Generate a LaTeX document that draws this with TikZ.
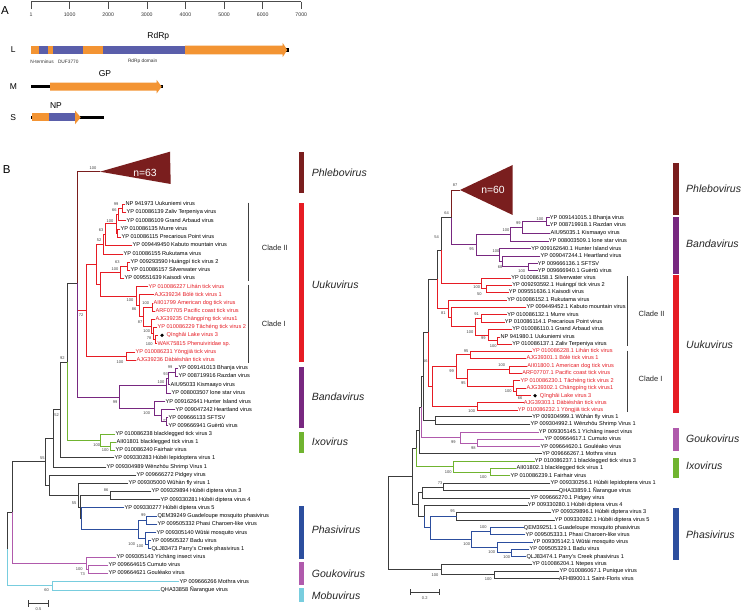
\documentclass[tikz,border=0pt]{standalone}
\usepackage{fontspec}
\setmainfont{Liberation Sans}
\definecolor{phlcol}{RGB}{122,30,30}
\definecolor{uukcol}{RGB}{230,28,36}
\definecolor{bancol}{RGB}{120,40,128}
\definecolor{ixocol}{RGB}{112,180,48}
\definecolor{phacol}{RGB}{44,78,158}
\definecolor{goucol}{RGB}{176,90,172}
\definecolor{mobcol}{RGB}{120,205,222}
\definecolor{treegray}{RGB}{60,60,60}
\definecolor{orfcol}{RGB}{243,148,51}
\definecolor{domcol}{RGB}{90,94,170}
\tikzset{
  leaf/.style={anchor=west, inner sep=0.4pt, text height=4.1pt, text depth=1.1pt, font=\fontsize{5.6}{6}\selectfont},
  redleaf/.style={leaf, text=uukcol},
  bs/.style={inner sep=0pt, font=\fontsize{4}{4.5}\selectfont, text=black!75},
  br/.style={line width=0.9pt, line cap=rect, draw=treegray},
  phlbr/.style={br, draw=phlcol},
  uukbr/.style={br, draw=uukcol},
  banbr/.style={br, draw=bancol},
  ixobr/.style={br, draw=ixocol},
  phabr/.style={br, draw=phacol},
  goubr/.style={br, draw=goucol},
  mobbr/.style={br, draw=mobcol},
  qdot/.style={circle, fill=black, inner sep=0pt, minimum size=3.6pt},
  genus/.style={anchor=west, inner sep=0pt, font=\fontsize{10.5}{12}\selectfont\itshape, text=black!85},
  clade/.style={anchor=west, inner sep=0pt, font=\fontsize{7.5}{9}\selectfont, text=black!85},
  brk/.style={line width=0.7pt, draw=black!75},
  seg/.style={anchor=center, inner sep=0pt, font=\fontsize{8.5}{10}\selectfont},
  small/.style={anchor=center, inner sep=0pt, font=\fontsize{4.8}{5.5}\selectfont, text=black!80},
  tick/.style={anchor=center, inner sep=0pt, font=\fontsize{5.2}{6}\selectfont, text=black!80},
  panel/.style={anchor=center, inner sep=0pt, font=\fontsize{11.5}{13}\selectfont},
  count/.style={anchor=center, inner sep=0pt, text=white, font=\fontsize{10.4}{12}\selectfont}
}
\begin{document}
\begin{tikzpicture}[x=1pt,y=-1pt]
\useasboundingbox[fill=white] (0,0) rectangle (743,612);

% panel A: genome sketch
\node[panel] (pa) at (5,10.7) {A};
\draw[line width=0.5pt, draw=black!70] (31,1.7) -- (301.3,1.7);
\foreach \k/\t in {0/1,1/1000,2/2000,3/3000,4/4000,5/5000,6/6000,7/7000} {
  \draw[line width=0.5pt, draw=black!70] ({31+38.61*\k},1.7) -- ({31+38.61*\k},9.3);
  \node[tick] (tk\k) at ({31+38.61*\k},15) {\t};
}
\node[seg] (segL) at (13.3,50) {L};
\node[seg] (segM) at (13.3,86.7) {M};
\node[seg] (segS) at (13.3,117.3) {S};
\fill[black] (285,48) rectangle (288.5,52);
\fill[orfcol] (31,45.7) rectangle (39,54.3);
\fill[domcol] (39,45.7) rectangle (48.3,54.3);
\fill[orfcol] (48.3,45.7) rectangle (53.3,54.3);
\fill[domcol] (53.3,45.7) rectangle (82.7,54.3);
\fill[orfcol] (82.7,45.7) rectangle (102.7,54.3);
\fill[domcol] (102.7,45.7) rectangle (185,54.3);
\fill[orfcol] (185,45.7) -- (282.7,45.7) -- (282.7,43) -- (287.3,50) -- (282.7,57) -- (282.7,54.3) -- (185,54.3) -- cycle;
\node[seg] (rdrp) at (158.3,36.7) {RdRp};
\node[small] (nter) at (42,61.7) {N-terminus};
\node[small] (duf) at (68.3,61.7) {DUF3770};
\node[small] (rdom) at (142.7,61.7) {RdRp domain};
\fill[black] (31,85.2) rectangle (162.7,88.3);
\fill[orfcol] (50,82.7) -- (156.7,82.7) -- (156.7,80) -- (161.7,86.7) -- (156.7,93.4) -- (156.7,90.7) -- (50,90.7) -- cycle;
\node[seg] (gp) at (105,74) {GP};
\fill[black] (31,115.8) rectangle (104.3,118.8);
\fill[orfcol] (31.7,113.3) rectangle (49.3,121.5);
\fill[domcol] (49.3,113.3) rectangle (75,121.5);
\fill[orfcol] (75,110.5) -- (80.7,117.4) -- (75,124.3) -- cycle;
\node[seg] (np) at (56,106) {NP};

% panel B, left tree
\node[panel] (pb) at (6.7,170) {B};
\coordinate (lphlapex) at (100,171.7);
\fill[phlcol] (lphlapex) -- (170,151.7) -- (170.7,184) -- cycle;
\node[count] (lphl) at (145,173) {n=63};

\node[leaf] (luuk) at (125,204.3) {NP 941973 Uukuniemi virus};
\node[leaf] (lzal) at (126,212.3) {YP 010086139 Zaliv Terpeniya virus};
\node[leaf] (lgra) at (126,220.7) {YP 010086109 Grand Arbaud virus};
\node[leaf] (lmur) at (120,229) {YP 010086135 Murre virus};
\node[leaf] (lpre) at (121,237.3) {YP 010086115 Precarious Point virus};
\node[leaf] (lkab) at (132,245.3) {YP 009449450 Kabuto mountain virus};
\node[leaf] (lruk) at (123,254.3) {YP 010086155 Rukutama virus};
\node[leaf] (lhua) at (130,262) {YP 009293590 Huángpí tick virus 2};
\node[leaf] (lsil) at (130,270) {YP 010086157 Silverwater virus};
\node[leaf] (lkai) at (124,278.3) {YP 009551639 Kaisodi virus};
\node[redleaf] (llih) at (148,286.7) {YP 010086227 Lihán tick virus};
\node[redleaf] (lbol) at (154,294.7) {AJG39234 Bòlè tick virus 1};
\node[redleaf] (lamd) at (153,303) {AII01799 American dog tick virus};
\node[redleaf] (lpac) at (155,311) {ARF07705 Pacific coast tick virus};
\node[redleaf] (lcha) at (155,319.3) {AJG39235 Chāngpíng tick virus1};
\node[redleaf] (ltac) at (157,327) {YP 010086229 Tǎchéng tick virus 2};
\coordinate (lqhtip) at (157.5,335.3);
\node[qdot] (lqhdot) at (162,335.3) {};
\node[redleaf] (lqhl) at (166,335.3) {Qīnghǎi Lake virus 3};
\node[redleaf] (lwak) at (157,343.7) {WAK75815 Phenuiviridae sp.};
\node[redleaf] (lyon) at (135,352) {YP 010086231 Yōngjiā tick virus};
\node[redleaf] (ldab) at (136,360.3) {AJG39236 Dàbiéshān tick virus};
\node[leaf] (lbha) at (178,368.3) {YP 009141013 Bhanja virus};
\node[leaf] (lraz) at (178,376.3) {YP 008719916 Razdan virus};
\node[leaf] (lkis) at (170,384.7) {AIU95033 Kismaayo virus};
\node[leaf] (llon) at (171,393) {YP 008003507 lone star virus};
\node[leaf] (lhun) at (165,401.7) {YP 009162641 Hunter Island virus};
\node[leaf] (lhea) at (175,409.7) {YP 009047242 Heartland virus};
\node[leaf] (lsft) at (168,417.7) {YP 009666133 SFTSV};
\node[leaf] (lgue) at (168,425.7) {YP 009666941 Guèrtǔ virus};
\node[leaf] (lbl3) at (115,434.3) {YP 010086238 blacklegged tick virus 3};
\node[leaf] (lbl1) at (116,442.3) {AII01801 blacklegged tick virus 1};
\node[leaf] (lfai) at (115,450) {YP 010086240 Fairhair virus};
\node[leaf] (llep) at (114,457.7) {YP 009330283 Húběi lepidoptera virus 1};
\node[leaf] (lwen) at (106,467) {YP 009304989 Wēnzhōu Shrimp Virus 1};
\node[leaf] (lpid) at (136,475) {YP 009666272 Pidgey virus};
\node[leaf] (lwuh) at (128,483.3) {YP 009305000 Wǔhàn fly virus 1};
\node[leaf] (ld3) at (151,491.3) {YP 009329894 Húběi diptera virus 3};
\node[leaf] (ld4) at (160,499.7) {YP 009330281 Húběi diptera virus 4};
\node[leaf] (ld5) at (124,507.7) {YP 009330277 Húběi diptera virus 5};
\node[leaf] (lgua) at (157,516) {QEM39249 Guadeloupe mosquito phasivirus};
\node[leaf] (lpcl) at (157,524.3) {YP 009505332 Phasi Charoen-like virus};
\node[leaf] (lwut) at (156,532.7) {YP 009305140 Wǔtái mosquito virus};
\node[leaf] (lbad) at (151,540.7) {YP 009505327 Badu virus};
\node[leaf] (lpar) at (151,548.7) {QLJ83473 Parry's Creek phasivirus 1};
\node[leaf] (lyic) at (116,557) {YP 009305143 Yíchāng insect virus};
\node[leaf] (lcum) at (108,565) {YP 009664615 Cumuto virus};
\node[leaf] (lgol) at (108,573) {YP 009664621 Gouléako virus};
\node[leaf] (lmot) at (179,581.7) {YP 009666266 Mothra virus};
\node[leaf] (lnar) at (160,590) {QHA33858 Ñarangue virus};

% left tree, inner nodes
\coordinate (lroot) at (7,549);
\coordinate (l127) at (12.7,512.4);
\coordinate (l457) at (45.7,461.8);
\coordinate (l53) at (53.3,438.4);
\coordinate (l60) at (60,409.9);
\coordinate (l67) at (67,362);
\coordinate (l77) at (77,283.9);
\coordinate (luu) at (86.7,310.2);
\coordinate (ln8) at (96.7,264.3);
\coordinate (ln6) at (103,244.5);
\coordinate (ln5) at (105,234.6);
\coordinate (ln4) at (116.5,223.8);
\coordinate (ln3) at (117.5,233.2);
\coordinate (ln2) at (118,214.5);
\coordinate (ln1) at (122,208.3);
\coordinate (ln9) at (100,284.2);
\coordinate (lhsk) at (120,272.2);
\coordinate (lhs) at (127,266);
\coordinate (lc7) at (136.7,296.2);
\coordinate (lc6) at (139.5,305.7);
\coordinate (lc5) at (143.3,316.7);
\coordinate (lc1) at (152,307);
\coordinate (lc2) at (151.7,326.3);
\coordinate (lc3) at (153,333.3);
\coordinate (lc4) at (155,339.5);
\coordinate (lyd) at (126,356.2);
\coordinate (lban) at (119.3,397.2);
\coordinate (lb3) at (166.7,385.7);
\coordinate (lb2) at (168.5,378.5);
\coordinate (lb1) at (175.5,372.3);
\coordinate (lb6) at (154,408.7);
\coordinate (lb5) at (161.7,415.7);
\coordinate (lb4) at (166.7,421.7);
\coordinate (lixo) at (100,440.2);
\coordinate (li1) at (110.7,446.2);
\coordinate (l49) at (49.3,485.1);
\coordinate (l78) at (78.7,495.2);
\coordinate (l80) at (80,507);
\coordinate (ld34) at (110,495.5);
\coordinate (l82) at (81.7,518.6);
\coordinate (lpha) at (138,529.4);
\coordinate (lp1) at (146.7,520.2);
\coordinate (lp2) at (145.5,538.7);
\coordinate (lp3) at (148.5,544.7);
\coordinate (lgou) at (86,563);
\coordinate (lg1) at (88,569);
\coordinate (lmob) at (52,585.9);

% left tree, branches
\draw[phlbr] (l77) |- (lphlapex);
\draw[uukbr] (l77) |- (luu) (luu) |- (ln8) (luu) |- (lyd) (ln8) |- (ln6) (ln8) |- (ln9)
  (ln6) |- (ln5) (ln6) |- (lruk.west) (ln5) |- (ln4) (ln5) |- (lkab.west)
  (ln4) |- (ln2) (ln4) |- (ln3) (ln2) |- (ln1) (ln2) |- (lgra.west)
  (ln1) |- (luuk.west) (ln1) |- (lzal.west) (ln3) |- (lmur.west) (ln3) |- (lpre.west)
  (ln9) |- (lhsk) (ln9) |- (lc7) (lhsk) |- (lhs) (lhsk) |- (lkai.west)
  (lhs) |- (lhua.west) (lhs) |- (lsil.west)
  (lc7) |- (llih.west) (lc7) |- (lc6) (lc6) |- (lbol.west) (lc6) |- (lc5)
  (lc5) |- (lc1) (lc5) |- (lc2) (lc1) |- (lamd.west) (lc1) |- (lpac.west)
  (lc2) |- (lcha.west) (lc2) |- (lc3) (lc3) |- (ltac.west) (lc3) |- (lc4)
  (lc4) |- (lqhtip) (lc4) |- (lwak.west) (lyd) |- (lyon.west) (lyd) |- (ldab.west);
\draw[banbr] (l77) |- (lban) (lban) |- (lb3) (lban) |- (lb6)
  (lb3) |- (lb2) (lb3) |- (llon.west) (lb2) |- (lb1) (lb2) |- (lkis.west)
  (lb1) |- (lbha.west) (lb1) |- (lraz.west) (lb6) |- (lhun.west) (lb6) |- (lb5)
  (lb5) |- (lhea.west) (lb5) |- (lb4) (lb4) |- (lsft.west) (lb4) |- (lgue.west);
\draw[br] (l67) |- (l77);
\draw[ixobr] (l67) |- (lixo) (lixo) |- (lbl3.west) (lixo) |- (li1) (li1) |- (lbl1.west) (li1) |- (lfai.west);
\draw[br] (l60) |- (l67) (l60) |- (llep.west) (l53) |- (l60) (l53) |- (lwen.west)
  (l457) |- (l53) (l457) |- (l49) (l49) |- (lpid.west) (l49) |- (l78)
  (l78) |- (lwuh.west) (l78) |- (l80) (l80) |- (ld34) (l80) |- (l82)
  (ld34) |- (ld3.west) (ld34) |- (ld4.west);
\draw[phabr] (l82) |- (ld5.west) (l82) |- (lpha) (lpha) |- (lp1) (lpha) |- (lp2)
  (lp1) |- (lgua.west) (lp1) |- (lpcl.west) (lp2) |- (lwut.west) (lp2) |- (lp3)
  (lp3) |- (lbad.west) (lp3) |- (lpar.west);
\draw[br] (l127) |- (l457) (lroot) |- (l127);
\draw[goubr] (l127) |- (lgou) (lgou) |- (lyic.west) (lgou) |- (lg1) (lg1) |- (lcum.west) (lg1) |- (lgol.west);
\draw[mobbr] (lroot) |- (lmob) (lmob) |- (lmot.west) (lmob) |- (lnar.west);

\foreach \x/\y/\t [count=\i] in {93/168/100, 116/204.3/99, 114.3/210/66, 110/221/100, 101/230/63,
  99/240/52, 117.3/261.7/63, 115/269/100, 130/300/100, 134/309.3/86, 145.7/302.7/100,
  140/321.7/87, 146.7/331/100, 149/338.3/78, 149.3/344/100, 81/315/72, 120/361.7/100,
  170/367.3/99, 165.7/374/93, 161/381.7/100, 115/401.7/99, 146.7/412.7/100, 165/420.7/77,
  62.3/358.3/92, 56.7/415/52, 96.7/445/100, 105.3/450/100, 42.3/457.7/55, 106/490/86,
  74/502.7/55, 143.3/515/99, 131.7/544.3/100, 140/545.7/100, 79.3/569/100, 82.7/574/73,
  46.7/590/60}
  \node[bs] (lbs\i) at (\x,\y) {\t};

\coordinate (lsb1) at (28,603.3);
\coordinate (lsb2) at (49,603.3);
\draw[|-|, line width=0.6pt, draw=treegray] (lsb1) -- (lsb2);
\node[bs] (lsbt) at (38.5,609.5) {0.5};

% left clades and genera
\coordinate (lk2a) at (248.3,202.7);
\coordinate (lk2b) at (248.3,280.5);
\coordinate (lk1a) at (248.3,284.5);
\coordinate (lk1b) at (248.3,363);
\draw[brk] (lk2a) -- (lk2b);
\draw[brk] (lk1a) -- (lk1b);
\node[clade] (lcl2) at (261.7,248.3) {Clade II};
\node[clade] (lcl1) at (261.7,324) {Clade I};
\fill[phlcol] (298.7,151.7) rectangle (304,192.7);
\fill[uukcol] (298.7,203.3) rectangle (304,362.3);
\fill[bancol] (298.7,367.3) rectangle (304,428.3);
\fill[ixocol] (298.7,431.7) rectangle (304,453.3);
\fill[phacol] (298.7,506) rectangle (304,559.3);
\fill[goucol] (298.7,561.7) rectangle (304,585);
\fill[mobcol] (298.7,588.3) rectangle (304,601.7);
\node[genus] (lgphl) at (311.7,172.3) {Phlebovirus};
\node[genus] (lguuk) at (311.7,285) {Uukuvirus};
\node[genus] (lgban) at (311.7,396.7) {Bandavirus};
\node[genus] (lgixo) at (311.7,441.7) {Ixovirus};
\node[genus] (lgpha) at (311.7,529.3) {Phasivirus};
\node[genus] (lggou) at (311.7,573.3) {Goukovirus};
\node[genus] (lgmob) at (311.7,595.3) {Mobuvirus};

% panel B, right tree
\coordinate (rphlapex) at (460,190);
\fill[phlcol] (rphlapex) -- (512.7,165) -- (512.7,215) -- cycle;
\node[count] (rphl) at (493,190) {n=60};

\node[leaf] (rbha) at (549.3,217.7) {YP 009141015.1 Bhanja virus};
\node[leaf] (rraz) at (549.3,225.3) {YP 008719918.1 Razdan virus};
\node[leaf] (rkis) at (550,233) {AIU95035.1 Kismaayo virus};
\node[leaf] (rlon) at (548.3,241) {YP 008003509.1 lone star virus};
\node[leaf] (rhun) at (530.7,248.7) {YP 009162640.1 Hunter Island virus};
\node[leaf] (rhea) at (540,256) {YP 009047244.1 Heartland virus};
\node[leaf] (rsft) at (537.3,263.7) {YP 009666136.1 SFTSV};
\node[leaf] (rgue) at (537.3,270.5) {YP 009666940.1 Guèrtǔ virus};
\node[leaf] (rsil) at (510.7,278) {YP 010086158.1 Silverwater virus};
\node[leaf] (rhua) at (511.7,285) {YP 009293592.1 Huángpí tick virus 2};
\node[leaf] (rkai) at (508.3,292.3) {YP 009551636.1 Kaisodi virus};
\node[leaf] (rruk) at (506.7,300) {YP 010086152.1 Rukutama virus};
\node[leaf] (rkab) at (526,307.3) {YP 009449452.1 Kabuto mountain virus};
\node[leaf] (rmur) at (506.7,314.7) {YP 010086132.1 Murre virus};
\node[leaf] (rpre) at (504.3,322) {YP 010086114.1 Precarious Point virus};
\node[leaf] (rgra) at (511.7,329.3) {YP 010086110.1 Grand Arbaud virus};
\node[leaf] (ruuk) at (500,337) {NP 941980.1 Uukuniemi virus};
\node[leaf] (rzal) at (511.7,344.3) {YP 010086137.1 Zaliv Terpeniya virus};
\node[redleaf] (rlih) at (531.7,351.3) {YP 010086228.1 Lihán tick virus};
\node[redleaf] (rbol) at (526,358.3) {AJG39301.1 Bòlè tick virus 1};
\node[redleaf] (ramd) at (526.7,366) {AII01800.1 American dog tick virus};
\node[redleaf] (rpac) at (521.7,373.3) {ARF07707.1 Pacific coast tick virus};
\node[redleaf] (rtac) at (520,380.7) {YP 010086230.1 Tǎchéng tick virus 2};
\node[redleaf] (rcha) at (526,388) {AJG39302.1 Chāngpíng tick virus1};
\coordinate (rqhtip) at (530.5,395.7);
\node[qdot] (rqhdot) at (535,395.7) {};
\node[redleaf] (rqhl) at (539.3,395.7) {Qīnghǎi Lake virus 3};
\node[redleaf] (rdab) at (523.3,402.7) {AJG39303.1 Dàbiéshān tick virus};
\node[redleaf] (ryon) at (517.3,410) {YP 010086232.1 Yōngjiā tick virus};
\node[leaf] (rwuh) at (531.7,416.7) {YP 009304999.1 Wǔhàn fly virus 1};
\node[leaf] (rwen) at (530,424.3) {YP 009304992.1 Wēnzhōu Shrimp Virus 1};
\node[leaf] (ryic) at (538.3,432.3) {YP 009305145.1 Yíchāng insect virus};
\node[leaf] (rcum) at (544,439.3) {YP 009664617.1 Cumuto virus};
\node[leaf] (rgol) at (540,446.7) {YP 009664620.1 Gouléako virus};
\node[leaf] (rmot) at (541.7,453.7) {YP 009666267.1 Mothra virus};
\node[leaf] (rbl3) at (534.3,461) {YP 010086237.1 blacklegged tick virus 3};
\node[leaf] (rbl1) at (516,468.3) {AII01802.1 blacklegged tick virus 1};
\node[leaf] (rfai) at (510,475.7) {YP 010086239.1 Fairhair virus};
\node[leaf] (rlep) at (550,483.3) {YP 009330256.1 Húběi lepidoptera virus 1};
\node[leaf] (rnar) at (558.3,490.7) {QHA33859.1 Ñarangue virus};
\node[leaf] (rpid) at (530,498) {YP 009666270.1 Pidgey virus};
\node[leaf] (rd4) at (527.3,505) {YP 009330280.1 Húběi diptera virus 4};
\node[leaf] (rd3) at (551,512.3) {YP 009329896.1 Húběi diptera virus 3};
\node[leaf] (rd5) at (554.3,520) {YP 009330282.1 Húběi diptera virus 5};
\node[leaf] (rgua) at (523.3,527.7) {QEM39251.1 Guadeloupe mosquito phasivirus};
\node[leaf] (rpcl) at (525,534.7) {YP 009505333.1 Phasi Charoen-like virus};
\node[leaf] (rwut) at (532.3,542) {YP 009305142.1 Wǔtái mosquito virus};
\node[leaf] (rbad) at (529,549) {YP 009505329.1 Badu virus};
\node[leaf] (rpar) at (526,556.7) {QLJ83474.1 Parry's Creek phasivirus 1};
\node[leaf] (rnte) at (531.7,564.3) {YP 010086204.1 Ntepes virus};
\node[leaf] (rpun) at (559,571) {YP 010086067.1 Punique virus};
\node[leaf] (rsfl) at (558.3,578.7) {AFH89001.1 Saint-Floris virus};

% right tree, inner nodes
\coordinate (rroot) at (388.3,523);
\coordinate (ri0) at (412.3,476.5);
\coordinate (rne) at (416,448.5);
\coordinate (rnd) at (419.3,430.5);
\coordinate (rnc) at (421,407.2);
\coordinate (rnb) at (423.3,376.7);
\coordinate (rn56) at (428,332.9);
\coordinate (rn54) at (437.3,279.4);
\coordinate (rn64) at (441.7,250.3);
\coordinate (rn87) at (451.7,217.3);
\coordinate (rban) at (476,244.6);
\coordinate (rb3) at (510,234.1);
\coordinate (rb2) at (522.7,227.3);
\coordinate (rb1) at (546,221.5);
\coordinate (rb6) at (499.3,255);
\coordinate (rb5) at (502.7,261.4);
\coordinate (rb4) at (528.3,266.9);
\coordinate (ru1) at (481,283.3);
\coordinate (ru1a) at (486,288.7);
\coordinate (rn81) at (448.3,308.5);
\coordinate (ru2) at (451,317);
\coordinate (ru3) at (475.7,326.7);
\coordinate (ru4) at (481,318.3);
\coordinate (ru6) at (488.3,335);
\coordinate (ru5) at (497.5,340.7);
\coordinate (rc1) at (432.3,386.3);
\coordinate (rv6) at (456,366.4);
\coordinate (rv1) at (470.7,354.8);
\coordinate (rv5) at (467.7,378);
\coordinate (rv2) at (509.3,369.7);
\coordinate (rv4) at (513.3,386.3);
\coordinate (rv3) at (516.7,391.8);
\coordinate (rv7) at (477.3,406.3);
\coordinate (rw1) at (435,420.5);
\coordinate (rgou) at (460,437.7);
\coordinate (rg1) at (477.7,443);
\coordinate (rixo) at (453.3,466.5);
\coordinate (ri1) at (490,472);
\coordinate (rh1) at (443.3,487);
\coordinate (rp1) at (422.7,492.5);
\coordinate (rdd) at (424,516.4);
\coordinate (rdph) at (430,527.8);
\coordinate (rd1) at (456.7,516.2);
\coordinate (rpha) at (471.7,539.3);
\coordinate (rph1) at (490,531.2);
\coordinate (rph2) at (497.3,547.4);
\coordinate (rph3) at (511.7,552.8);
\coordinate (rnf) at (418.5,504.5);
\coordinate (ro2) at (441.7,569.5);
\coordinate (ro1) at (494.3,574.8);

% right tree, branches
\draw[phlbr] (rn87) |- (rphlapex);
\draw[banbr] (rn87) |- (rban) (rban) |- (rb3) (rban) |- (rb6)
  (rb3) |- (rb2) (rb3) |- (rlon.west) (rb2) |- (rb1) (rb2) |- (rkis.west)
  (rb1) |- (rbha.west) (rb1) |- (rraz.west) (rb6) |- (rhun.west) (rb6) |- (rb5)
  (rb5) |- (rhea.west) (rb5) |- (rb4) (rb4) |- (rsft.west) (rb4) |- (rgue.west);
\draw[br] (rn64) |- (rn87) (rn54) |- (rn64) (rn56) |- (rn54);
\draw[uukbr] (rn64) |- (ru1) (ru1) |- (rsil.west) (ru1) |- (ru1a)
  (ru1a) |- (rhua.west) (ru1a) |- (rkai.west)
  (rn54) |- (rn81) (rn81) |- (rruk.west) (rn81) |- (ru2) (ru2) |- (rkab.west) (ru2) |- (ru3)
  (ru3) |- (ru4) (ru3) |- (ru6) (ru4) |- (rmur.west) (ru4) |- (rpre.west)
  (ru6) |- (rgra.west) (ru6) |- (ru5) (ru5) |- (ruuk.west) (ru5) |- (rzal.west);
\draw[uukbr] (rn56) |- (rc1) (rc1) |- (rv6) (rc1) |- (rv7) (rv6) |- (rv1) (rv6) |- (rv5)
  (rv1) |- (rlih.west) (rv1) |- (rbol.west) (rv5) |- (rv2) (rv5) |- (rv4)
  (rv2) |- (ramd.west) (rv2) |- (rpac.west) (rv4) |- (rtac.west) (rv4) |- (rv3)
  (rv3) |- (rcha.west) (rv3) |- (rqhtip) (rv7) |- (rdab.west) (rv7) |- (ryon.west);
\draw[br] (rnb) |- (rn56) (rnb) |- (rw1) (rw1) |- (rwuh.west) (rw1) |- (rwen.west)
  (rnc) |- (rnb) (rnd) |- (rnc) (rnd) |- (rmot.west) (rne) |- (rnd);
\draw[goubr] (rnc) |- (rgou) (rgou) |- (ryic.west) (rgou) |- (rg1) (rg1) |- (rcum.west) (rg1) |- (rgol.west);
\draw[ixobr] (rne) |- (rixo) (rixo) |- (rbl3.west) (rixo) |- (ri1) (ri1) |- (rbl1.west) (ri1) |- (rfai.west);
\draw[br] (rh1) |- (rlep.west) (rh1) |- (rnar.west) (rp1) |- (rh1) (rp1) |- (rpid.west)
  (rdd) |- (rd4.west) (rnf) |- (rp1) (rnf) |- (rdd) (rd1) |- (rd3.west) (rd1) |- (rd5.west);
\draw[phabr] (rdd) |- (rdph) (rdph) |- (rd1) (rdph) |- (rpha) (rpha) |- (rph1) (rpha) |- (rph2)
  (rph1) |- (rgua.west) (rph1) |- (rpcl.west) (rph2) |- (rwut.west) (rph2) |- (rph3)
  (rph3) |- (rbad.west) (rph3) |- (rpar.west);
\draw[br] (ri0) |- (rne) (ri0) |- (rnf) (rroot) |- (ri0) (rroot) |- (ro2)
  (ro2) |- (rnte.west) (ro2) |- (ro1) (ro1) |- (rpun.west) (ro1) |- (rsfl.west);

\foreach \x/\y/\t [count=\i] in {455/185/87, 446.7/212.7/64, 436.7/236.7/54, 540/219/100,
  518.3/223.3/99, 506/230/100, 471.7/249.3/95, 496/251/100, 500/267.3/68, 521.7/270.7/100,
  476.7/286.7/100, 479.3/294.3/50, 443.3/313.3/81, 476.7/314.3/91, 470/331.7/100,
  483.3/338.3/99, 493.3/346/100, 466/351/95, 451.7/371/99, 501.7/365/100, 463.3/383/95,
  425.3/360.7/56, 508.3/390.7/100, 520/398.5/66, 471.7/411/100, 453.3/441.7/99,
  473.3/447.7/98, 448.3/471.7/100, 483.3/476.7/100, 440/483.3/73, 452.7/511.3/95,
  483.3/526.7/100, 466.7/544.3/100, 491.7/551.7/100, 506.7/557.3/100, 435/575/100,
  488.3/579.3/100}
  \node[bs] (rbs\i) at (\x,\y) {\t};

\coordinate (rsb1) at (410,592);
\coordinate (rsb2) at (439.3,592);
\draw[|-|, line width=0.6pt, draw=treegray] (rsb1) -- (rsb2);
\node[bs] (rsbt) at (424.7,598.5) {0.2};

% right clades and genera
\coordinate (rk2a) at (627.7,276);
\coordinate (rk2b) at (627.7,346);
\coordinate (rk1a) at (627.7,350.7);
\coordinate (rk1b) at (627.7,411.7);
\draw[brk] (rk2a) -- (rk2b);
\draw[brk] (rk1a) -- (rk1b);
\node[clade] (rcl2) at (638.5,314) {Clade II};
\node[clade] (rcl1) at (638.5,379.3) {Clade I};
\fill[phlcol] (673.3,163.3) rectangle (678.7,215);
\fill[bancol] (673.3,216.7) rectangle (678.7,274);
\fill[uukcol] (673.3,275) rectangle (678.7,413.3);
\fill[goucol] (673.3,428.3) rectangle (678.7,450.7);
\fill[ixocol] (673.3,458.3) rectangle (678.7,478.3);
\fill[phacol] (673.3,508.3) rectangle (678.7,560);
\node[genus] (rgphl) at (686,188.3) {Phlebovirus};
\node[genus] (rgban) at (686,244) {Bandavirus};
\node[genus] (rguuk) at (686,345) {Uukuvirus};
\node[genus] (rggou) at (686,438.3) {Goukovirus};
\node[genus] (rgixo) at (686,466) {Ixovirus};
\node[genus] (rgpha) at (686,535) {Phasivirus};
\end{tikzpicture}
\end{document}
